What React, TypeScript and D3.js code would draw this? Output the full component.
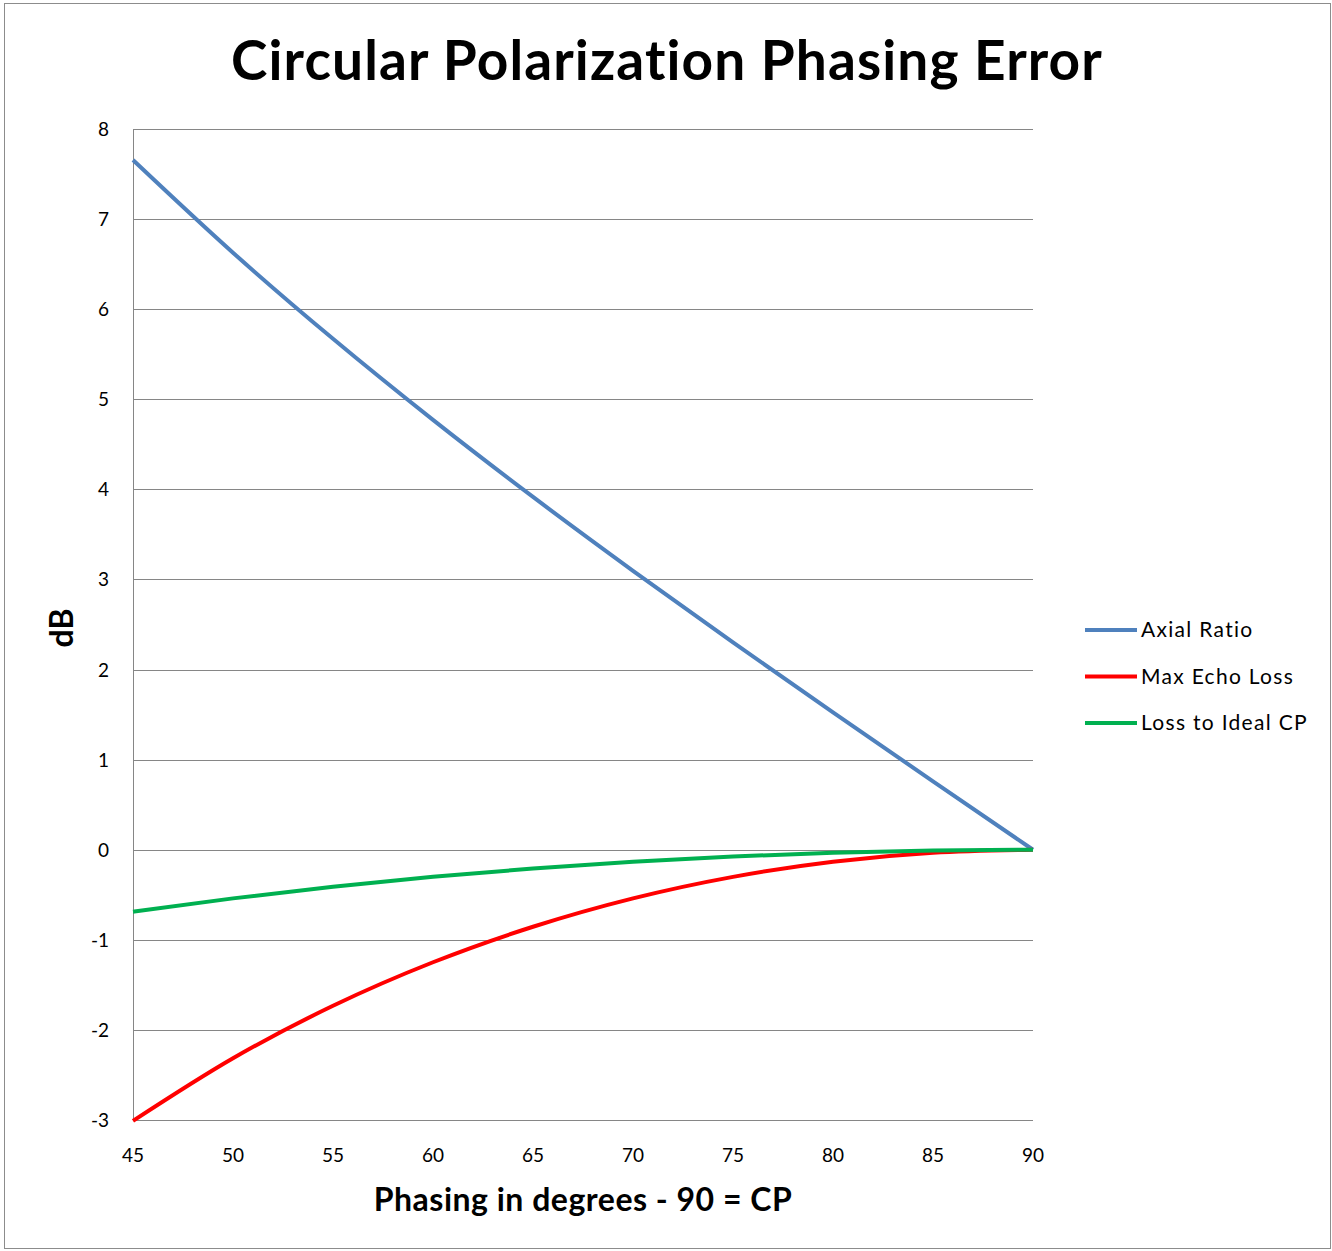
import React from "react";
import * as d3 from "d3";

const phases = [45, 50, 55, 60, 65, 70, 75, 80, 85, 90];
const axialRatio = [7.656, 6.627, 5.671, 4.771, 3.916, 3.096, 2.301, 1.524, 0.759, 0.0];
const maxEchoLoss = [-3.01, -2.315, -1.732, -1.249, -0.855, -0.54, -0.301, -0.133, -0.033, 0.0];
const lossToIdealCP = [-0.688, -0.54, -0.412, -0.301, -0.208, -0.133, -0.075, -0.033, -0.008, 0.0];
const xTicks = [45, 50, 55, 60, 65, 70, 75, 80, 85, 90];
const yTicks = [8, 7, 6, 5, 4, 3, 2, 1, 0, -1, -2, -3];
const seriesNames = ["Axial Ratio", "Max Echo Loss", "Loss to Ideal CP"];
const seriesColors = ["#4F81BD", "#FF0000", "#00B050"];

export default function App() {
  const W = 1332, H = 1251;
  const left = 133, right = 1033, top = 129, bottom = 1120;
  const x = d3.scaleLinear().domain([45, 90]).range([left, right]);
  const y = d3.scaleLinear().domain([-3, 8]).range([bottom, top]);
  const series = [axialRatio, maxEchoLoss, lossToIdealCP];
  const line = d3
    .line<number>()
    .x((_, i) => x(phases[i]))
    .y((d) => y(d))
    .curve(d3.curveMonotoneX);
  const font = "Lato, 'Open Sans', sans-serif";
  return (
    <svg width={W} height={H} style={{ position: "absolute", left: 0, top: 0 }} fontFamily={font}>
      <rect x={0} y={0} width={W} height={H} fill="#fff" />
      <rect x={4.5} y={3.5} width={1326} height={1245} fill="none" stroke="#8c8c8c" strokeWidth={1} />
      <text x={667} y={80} textAnchor="middle" fontSize={55} fontWeight="bold" letterSpacing={1.1} fill="#000">
        Circular Polarization Phasing Error
      </text>
      {yTicks.map((t) => (
        <g key={t}>
          <line x1={left} x2={right} y1={Math.round(y(t)) + 0.5} y2={Math.round(y(t)) + 0.5} stroke="#868686" strokeWidth={1} />
          <text x={109} y={y(t) + 7} textAnchor="end" fontSize={19} fill="#000">
            {t}
          </text>
        </g>
      ))}
      <line x1={left + 0.5} x2={left + 0.5} y1={top} y2={bottom} stroke="#868686" strokeWidth={1} />
      {xTicks.map((t) => (
        <text key={t} x={x(t)} y={1162} textAnchor="middle" fontSize={19} fill="#000">
          {t}
        </text>
      ))}
      <text x={583} y={1211} textAnchor="middle" fontSize={32} fontWeight="bold" letterSpacing={0.5} fill="#000">
        Phasing in degrees - 90 = CP
      </text>
      <text transform={`translate(73,628) rotate(-90)`} textAnchor="middle" fontSize={32} fontWeight="bold" fill="#000">
        dB
      </text>
      {series.map((s, i) => (
        <path key={i} d={line(s) || ""} fill="none" stroke={seriesColors[i]} strokeWidth={4} strokeLinejoin="round" />
      ))}
      {seriesNames.map((n, i) => (
        <g key={n}>
          <line x1={1085} x2={1137} y1={630 + i * 46.5} y2={630 + i * 46.5} stroke={seriesColors[i]} strokeWidth={4} />
          <text x={1141} y={630 + i * 46.5 + 7} fontSize={21} letterSpacing={1.3} fill="#000">
            {n}
          </text>
        </g>
      ))}
    </svg>
  );
}
